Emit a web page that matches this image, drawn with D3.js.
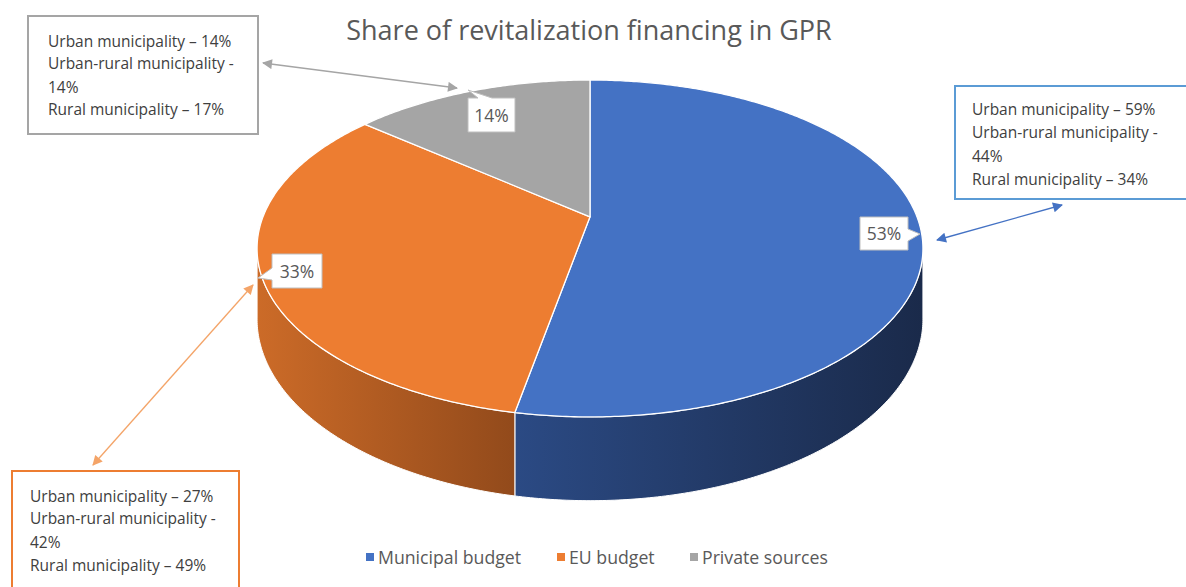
<!DOCTYPE html>
<html>
<head>
<meta charset="utf-8">
<script src="https://cdn.jsdelivr.net/npm/d3@7"></script>
<style>
    body { margin: 0; background: #fff; }
    svg { display: block; font-family: "Open Sans", Lato, sans-serif; }
</style>
</head>
<body>
<svg id="chart" width="1186" height="587"></svg>
<script>
// chart data
const title = "Share of revitalization financing in GPR";
const categories = ["Municipal budget", "EU budget", "Private sources"];
const shares = [53, 33, 14];
const noteLabels = ["Urban municipality – ", "Urban-rural municipality -", "Rural municipality – "];
const urbanShares = [59, 27, 14];
const urbanRuralShares = [44, 42, 14];
const ruralShares = [34, 49, 17];

const colors = ["#4472c4", "#ed7d31", "#a5a5a5"];
const sideColors = [["#2b4a84", "#1a2a4a"], ["#cc6b28", "#924a1b"], ["#8a8a8a", "#6a6a6a"]];
const arrowColors = ["#4472c4", "#f4a468", "#a5a5a5"];
const boxColors = ["#5b9bd5", "#ed7d31", "#a5a5a5"];

// layout: a tilted disc seen in perspective
const cx = 590, cy = 216.8, A = 327, B = 162.5, persp = 0.188, depth = 68;
const svg = d3.select("#chart");

const ex = d3.scaleLinear().domain([-1, 1]).range([-A, A]);
const ey = d3.scaleLinear().domain([-1, 1]).range([B, -B]);

function edge(a, dropped) {
    let u = Math.sin(a), v = Math.cos(a);
    let k = 1 / (1 + persp * v);
    return [cx + ex(u) * k, cy + ey(v) * k + (dropped ? depth * k : 0)];
}

function arcPoints(a0, a1, dropped) {
    let n = Math.max(2, Math.ceil((a1 - a0) / 0.01));
    return d3.range(n + 1).map(i => edge(a0 + (a1 - a0) * i / n, dropped));
}

let line = d3.line();
let pie = d3.pie().sort(null).value(d => d);
let arcs = pie(shares);

let defs = svg.append("defs");

// side faces, only the part in front of the silhouette
const sideFrom = Math.acos(-persp), sideTo = 2 * Math.PI - Math.acos(-persp);
let sides = svg.append("g");
arcs.forEach((d, i) => {
    let a0 = Math.max(d.startAngle, sideFrom);
    let a1 = Math.min(d.endAngle, sideTo);
    if (a1 <= a0) return;
    let top = arcPoints(a0, a1, false);
    let bottom = arcPoints(a0, a1, true).reverse();
    let xs = top.map(p => p[0]);
    let grad = defs.append("linearGradient")
        .attr("id", "side" + i)
        .attr("gradientUnits", "userSpaceOnUse")
        .attr("x1", d3.min(xs)).attr("x2", d3.max(xs))
        .attr("y1", 0).attr("y2", 0);
    grad.append("stop").attr("offset", 0).attr("stop-color", sideColors[i][0]);
    grad.append("stop").attr("offset", 1).attr("stop-color", sideColors[i][1]);
    sides.append("path")
        .attr("d", line(top.concat(bottom)) + "Z")
        .attr("fill", "url(#side" + i + ")")
        .attr("stroke", "#fff")
        .attr("stroke-width", 1);
});

// top faces
let tops = svg.append("g");
arcs.forEach((d, i) => {
    let pts = [[cx, cy]].concat(arcPoints(d.startAngle, d.endAngle, false));
    tops.append("path")
        .attr("d", line(pts) + "Z")
        .attr("fill", colors[i])
        .attr("stroke", "#fff")
        .attr("stroke-width", 1.3)
        .attr("stroke-linejoin", "round");
});

// data labels with callout pointers
const labelBoxes = [
    {x: 860, y: 217, w: 48, h: 33, side: "right", p: 229, q: 241, tip: [920, 234]},
    {x: 272, y: 254, w: 50, h: 34, side: "left", p: 268, q: 280, tip: [258, 278]},
    {x: 468, y: 98, w: 47, h: 34, side: "top", p: 478, q: 492, tip: [468, 90]}
];

function calloutPath(b) {
    let x0 = b.x, y0 = b.y, x1 = b.x + b.w, y1 = b.y + b.h;
    let pts;
    if (b.side === "right") {
        pts = [[x0, y0], [x1, y0], [x1, b.p], b.tip, [x1, b.q], [x1, y1], [x0, y1]];
    } else if (b.side === "left") {
        pts = [[x0, y0], [x1, y0], [x1, y1], [x0, y1], [x0, b.q], b.tip, [x0, b.p]];
    } else {
        pts = [[x0, y0], [b.p, y0], b.tip, [b.q, y0], [x1, y0], [x1, y1], [x0, y1]];
    }
    return line(pts) + "Z";
}

let labels = svg.append("g");
arcs.forEach((d, i) => {
    let b = labelBoxes[i];
    labels.append("path")
        .attr("d", calloutPath(b))
        .attr("fill", "#fff")
        .attr("stroke", "#bfbfbf")
        .attr("stroke-width", 1);
    labels.append("text")
        .attr("x", b.x + b.w / 2)
        .attr("y", b.y + b.h / 2 + 6.5)
        .attr("text-anchor", "middle")
        .attr("font-size", 17.5)
        .attr("fill", "#595959")
        .text(d3.format("d")(d.data) + "%");
});

// title
svg.append("text")
    .attr("x", 589)
    .attr("y", 40)
    .attr("text-anchor", "middle")
    .attr("font-size", 27)
    .attr("fill", "#595959")
    .text(title);

// annotation boxes
const noteBoxes = [
    {x: 955, y: 86, w: 240, h: 113, tx: 972, ys: [115, 138, 162, 185]},
    {x: 12, y: 471, w: 227, h: 130, tx: 30, ys: [502, 524, 548, 571]},
    {x: 28, y: 16, w: 230, h: 118, tx: 48, ys: [47, 69, 93, 115]}
];
const arrows = [
    [[937, 240], [1062, 205]],
    [[93, 465], [253, 285]],
    [[263, 63], [457, 88]]
];

arrowColors.forEach((c, i) => {
    let m = defs.append("marker")
        .attr("id", "arrow" + i)
        .attr("viewBox", "0 0 10 10")
        .attr("refX", 9).attr("refY", 5)
        .attr("markerWidth", 12).attr("markerHeight", 10)
        .attr("markerUnits", "userSpaceOnUse")
        .attr("orient", "auto-start-reverse");
    m.append("path").attr("d", "M0,0L10,5L0,10Z").attr("fill", c);
});

let notes = svg.append("g");
categories.forEach((c, i) => {
    let b = noteBoxes[i];
    notes.append("rect")
        .attr("x", b.x).attr("y", b.y)
        .attr("width", b.w).attr("height", b.h)
        .attr("fill", "#fff")
        .attr("stroke", boxColors[i])
        .attr("stroke-width", 2);
    let lines = [
        noteLabels[0] + urbanShares[i] + "%",
        noteLabels[1],
        urbanRuralShares[i] + "%",
        noteLabels[2] + ruralShares[i] + "%"
    ];
    lines.forEach((t, j) => {
        notes.append("text")
            .attr("x", b.tx)
            .attr("y", b.ys[j])
            .attr("font-size", 15.5)
            .attr("fill", "#404040")
            .text(t);
    });
    notes.append("path")
        .attr("d", line(arrows[i]))
        .attr("stroke", arrowColors[i])
        .attr("stroke-width", 1.3)
        .attr("fill", "none")
        .attr("marker-start", "url(#arrow" + i + ")")
        .attr("marker-end", "url(#arrow" + i + ")");
});

// legend
const legendX = [366, 557, 690];
let legend = svg.append("g");
categories.forEach((c, i) => {
    legend.append("rect")
        .attr("x", legendX[i]).attr("y", 553)
        .attr("width", 8).attr("height", 8)
        .attr("fill", colors[i]);
    legend.append("text")
        .attr("x", legendX[i] + 12)
        .attr("y", 563.5)
        .attr("font-size", 17.7)
        .attr("fill", "#595959")
        .text(c);
});
</script>
</body>
</html>
